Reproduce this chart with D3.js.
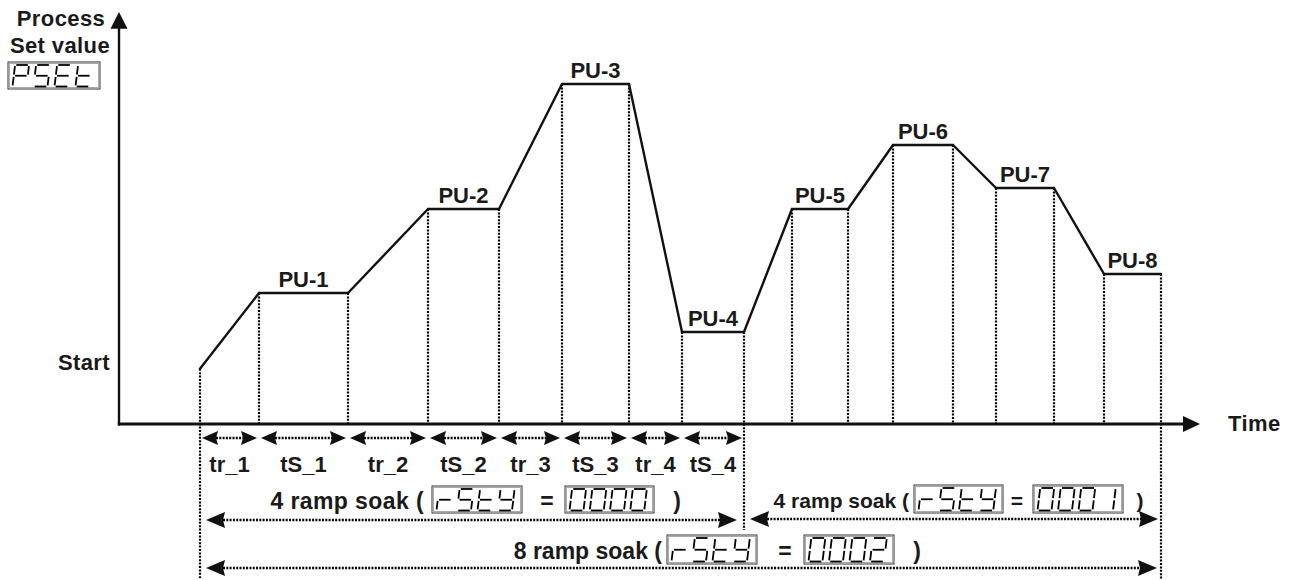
<!DOCTYPE html>
<html><head><meta charset="utf-8">
<script src="https://cdn.jsdelivr.net/npm/d3@7/dist/d3.min.js"></script>
<style>body{margin:0;background:#fff}svg{display:block}text{font-family:"Liberation Sans",Arial,sans-serif;font-weight:bold;fill:#1a1a1a}</style>
</head><body><svg id="c" width="1300" height="580"></svg>
<script>
// ---- data ----
const phaseNames = ["PU-1","PU-2","PU-3","PU-4","PU-5","PU-6","PU-7","PU-8"];
const startTime = 8.1;
const startValue = 13.8;
const soakStart = [14.0, 30.9, 44.3, 56.3, 67.3, 77.4, 87.7, 98.5];
const soakEnd   = [22.9, 38.0, 51.0, 62.5, 72.9, 83.4, 93.5, 104.2];
const soakValue = [32.75, 53.75, 85, 23, 53.75, 69.75, 59, 37.5];
const segmentLabels = ["tr_1","tS_1","tr_2","tS_2","tr_3","tS_3","tr_4","tS_4"];
const axisLabels = {y1:"Process", y2:"Set value", x:"Time", start:"Start"};
const displayCodes = ["PSEt","rStY","0000","0001","0002"];
const rampTexts = ["4 ramp soak (","4 ramp soak (","8 ramp soak ("];

// ---- scales ----
const x = d3.scaleLinear().domain([0,108.1]).range([119,1200]);
const y = d3.scaleLinear().domain([0,100]).range([424,24]);
const svg = d3.select("#c");
svg.append("rect").attr("width",1300).attr("height",580).attr("fill","#fff");
const ink = "#111";
const FS = 22;

// axes
svg.append("line").attr("x1",x(0)).attr("x2",x(0)).attr("y1",y(0)+1.5).attr("y2",y(101)).attr("stroke",ink).attr("stroke-width",2.4);
svg.append("path").attr("d",`M${x(0)},${y(103)} L${x(0)-8.5},${y(98.8)} L${x(0)+8.5},${y(98.8)} Z`).attr("fill",ink);
svg.append("line").attr("x1",x(0)-1.2).attr("x2",x(106.5)).attr("y1",y(0)).attr("y2",y(0)).attr("stroke",ink).attr("stroke-width",3);
svg.append("path").attr("d",`M${x(108.1)},${y(0)} L${x(106.4)},${y(0)-8} L${x(106.4)},${y(0)+8} Z`).attr("fill",ink);

// points
const pts = [[startTime,startValue]];
soakStart.forEach((s,i)=>{pts.push([s,soakValue[i]]);pts.push([soakEnd[i],soakValue[i]]);});

// verticals
const dot = "2,1.4";
const extra = {};
extra[startTime] = 578; extra[soakEnd[3]] = 530; extra[soakEnd[7]] = 580;
pts.forEach(p=>{
  const yb = extra[p[0]] !== undefined ? extra[p[0]] : y(0);
  svg.append("line").attr("x1",x(p[0])).attr("x2",x(p[0])).attr("y1",y(p[1])).attr("y2",yb)
    .attr("stroke","#000").attr("stroke-width",2.2).attr("stroke-dasharray",dot);
});

// process line
for(let i=0;i<pts.length-1;i++){
  const a=pts[i], b=pts[i+1];
  const flat = a[1]===b[1];
  svg.append("line").attr("x1",x(a[0])).attr("y1",y(a[1])).attr("x2",x(b[0])).attr("y2",y(b[1]))
    .attr("stroke",ink).attr("stroke-width",2.4).attr("stroke-dasharray",flat?"2.5,1":null).attr("stroke-linecap","round");
}
// PU labels
phaseNames.forEach((n,i)=>{
  svg.append("text").attr("x",(x(soakStart[i])+x(soakEnd[i]))/2).attr("y",y(soakValue[i])-6)
    .attr("text-anchor","middle").attr("font-size",FS).text(n);
});

// axis labels
svg.append("text").attr("x",61).attr("y",26).attr("text-anchor","middle").attr("font-size",FS).attr("letter-spacing",0.4).text(axisLabels.y1);
svg.append("text").attr("x",60).attr("y",53).attr("text-anchor","middle").attr("font-size",FS).attr("letter-spacing",0.4).text(axisLabels.y2);
svg.append("text").attr("x",110).attr("y",370).attr("text-anchor","end").attr("font-size",FS).attr("letter-spacing",0.4).text(axisLabels.start);
svg.append("text").attr("x",1228).attr("y",431).attr("font-size",FS).attr("letter-spacing",0.4).text(axisLabels.x);

// double arrows
function dblArrow(x1,x2,yy,hl,hh){
  svg.append("path").attr("d",`M${x1},${yy} L${x1+hl},${yy-hh} L${x1+hl-2},${yy} L${x1+hl},${yy+hh} Z`).attr("fill",ink);
  svg.append("path").attr("d",`M${x2},${yy} L${x2-hl},${yy-hh} L${x2-hl+2},${yy} L${x2-hl},${yy+hh} Z`).attr("fill",ink);
  svg.append("line").attr("x1",x1+hl-2).attr("x2",x2-hl+2).attr("y1",yy).attr("y2",yy)
    .attr("stroke","#000").attr("stroke-width",2.4).attr("stroke-dasharray","2,1.3");
}
const bounds = [startTime];
for(let i=0;i<4;i++){bounds.push(soakStart[i]);bounds.push(soakEnd[i]);}
segmentLabels.forEach((l,i)=>{
  const a=x(bounds[i]), b=x(bounds[i+1]);
  dblArrow(a+2,b-2,438,16,7);
  svg.append("text").attr("x",(a+b)/2).attr("y",472).attr("text-anchor","middle").attr("font-size",FS).text(l);
});
dblArrow(x(startTime)+6, x(soakEnd[3])-7, 520, 19, 8);
dblArrow(x(soakEnd[3])+6, x(soakEnd[7])-3, 519, 19, 8);
dblArrow(x(startTime)+6, x(soakEnd[7])-4, 568, 19, 8);

// seven-seg display
const SEG = {P:"abefg",S:"afgcd",E:"afged",t:"fegd",r:"eg",Y:"fbgcd","0":"abcdef","1":"bc","2":"abged"};
function display(bx,by,bw,bh,code){
  const g = svg.append("g");
  g.append("rect").attr("x",bx).attr("y",by).attr("width",bw).attr("height",bh).attr("fill","#fff").attr("stroke","#333").attr("stroke-width",1);
  g.append("rect").attr("x",bx+1.5).attr("y",by+1.5).attr("width",bw-3).attr("height",bh-3).attr("fill","none").attr("stroke","#aaa").attr("stroke-width",1);
  const pitch=(bw-8)/4, w=14, top=by+3, h=bh-5.5, sk=0.12;
  code.split("").forEach((ch,i)=>{
    const L = bx+4.5+i*pitch;
    const P=(px,py)=>[L+px+(h-py)*sk, top+py];
    const gp=1.2, m=h/2;
    const s = {
      a:[[gp,0],[w-gp,0]], b:[[w,gp],[w,m-gp]], c:[[w,m+gp],[w,h-gp]], d:[[gp,h],[w-gp,h]],
      e:[[0,m+gp],[0,h-gp]], f:[[0,gp],[0,m-gp]], g:[[gp,m],[w-gp,m]]
    };
    (SEG[ch]||"").split("").forEach(k=>{
      const p1=P(...s[k][0]), p2=P(...s[k][1]);
      g.append("line").attr("x1",p1[0]).attr("y1",p1[1]).attr("x2",p2[0]).attr("y2",p2[1]).attr("stroke","#000").attr("stroke-width",1.8);
    });
  });
}
display(8,62,92,27,displayCodes[0]);
// row 1
svg.append("text").attr("x",424).attr("y",509).attr("text-anchor","end").attr("font-size",23).attr("letter-spacing",0.4).text(rampTexts[0]);
display(432,486,90,27,displayCodes[1]);
svg.append("text").attr("x",547).attr("y",509).attr("text-anchor","middle").attr("font-size",23).text("=");
display(565,486,89,27,displayCodes[2]);
svg.append("text").attr("x",677).attr("y",509).attr("text-anchor","middle").attr("font-size",23).text(")");
// row 2
svg.append("text").attr("x",909).attr("y",508).attr("text-anchor","end").attr("font-size",21).text(rampTexts[1]);
display(914,485,89,28,displayCodes[1]);
svg.append("text").attr("x",1017).attr("y",508).attr("text-anchor","middle").attr("font-size",21).text("=");
display(1033,485,90,28,displayCodes[3]);
svg.append("text").attr("x",1140).attr("y",508).attr("text-anchor","middle").attr("font-size",21).text(")");
// row 3
svg.append("text").attr("x",662).attr("y",559).attr("text-anchor","end").attr("font-size",23).text(rampTexts[2]);
display(667,535,90,29,displayCodes[1]);
svg.append("text").attr("x",785).attr("y",559).attr("text-anchor","middle").attr("font-size",23).text("=");
display(804,535,90,29,displayCodes[4]);
svg.append("text").attr("x",917).attr("y",559).attr("text-anchor","middle").attr("font-size",23).text(")");
</script></body></html>
